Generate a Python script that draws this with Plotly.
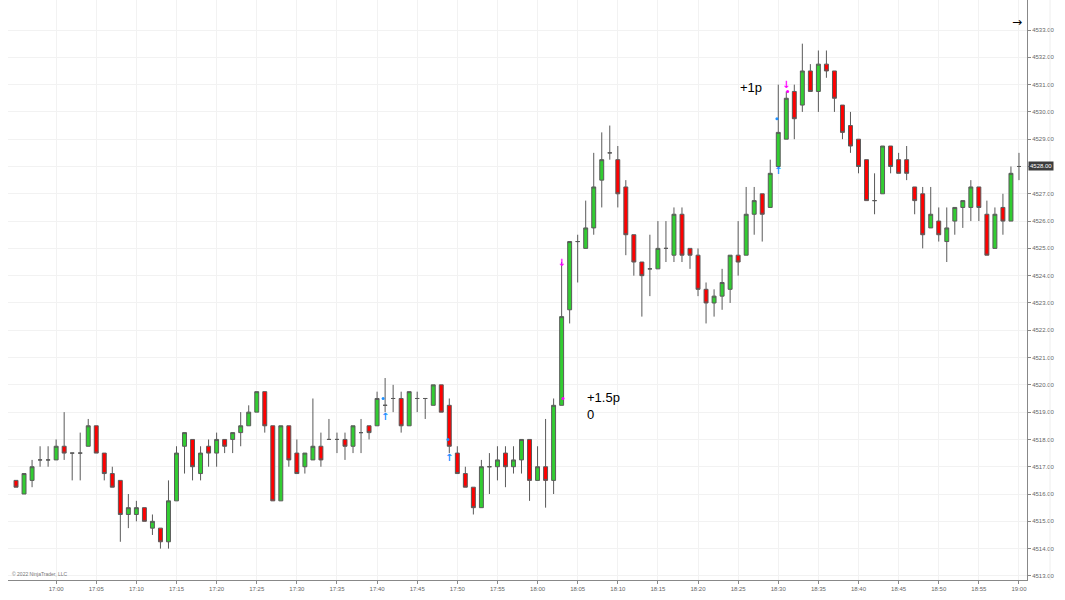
import pandas as pd
import plotly.graph_objects as go

# 1 minute bars, 16:55 -> 19:00
start_time = "2022-01-03 16:55"
opens = [4516.5, 4516.0, 4516.5, 4517.25, 4517.25, 4517.25, 4517.75, 4517.5, 4517.5, 4517.75,
         4518.5, 4517.5, 4516.75, 4516.5, 4515.25, 4515.25, 4515.5, 4514.75, 4514.75, 4514.25,
         4515.75, 4517.75, 4518.0, 4516.75, 4517.75, 4517.5, 4518.0, 4518.0, 4518.25, 4518.5,
         4519.0, 4519.75, 4518.5, 4515.75, 4518.5, 4517.5, 4517.0, 4517.25, 4517.75, 4518.0,
         4518.0, 4518.0, 4517.75, 4518.25, 4518.5, 4518.5, 4519.25, 4519.5, 4519.5, 4518.5,
         4519.5, 4519.5, 4519.25, 4520.0, 4519.25, 4517.5, 4516.75, 4516.25, 4515.5, 4517.0,
         4517.0, 4517.5, 4517.0, 4517.25, 4518.0, 4516.5, 4517.0, 4516.5, 4519.25, 4522.75,
         4525.25, 4525.0, 4525.75, 4527.5, 4528.5, 4528.25, 4527.25, 4525.5, 4524.5, 4524.25,
         4524.25, 4525.0, 4524.75, 4526.25, 4525.0, 4524.75, 4523.5, 4523.0, 4523.25, 4523.5,
         4524.75, 4524.75, 4526.25, 4527.0, 4526.5, 4528.0, 4529.0, 4530.75, 4530.25, 4531.5,
         4530.75, 4531.75, 4531.5, 4530.25, 4529.5, 4529.0, 4528.25, 4526.75, 4527.0, 4528.75,
         4528.25, 4528.25, 4527.25, 4527.0, 4525.75, 4526.0, 4525.25, 4526.0, 4526.5, 4526.5,
         4527.25, 4526.25, 4525.0, 4526.5, 4526.0, 4528.0]
highs = [4516.5, 4516.75, 4517.25, 4517.75, 4517.75, 4518.0, 4519.0, 4517.5, 4518.25, 4518.75,
         4518.5, 4517.5, 4517.0, 4516.5, 4516.0, 4515.75, 4515.5, 4515.25, 4514.75, 4516.5,
         4517.75, 4518.25, 4518.0, 4517.75, 4518.0, 4518.25, 4518.0, 4518.25, 4519.0, 4519.25,
         4519.75, 4519.75, 4518.5, 4518.5, 4518.5, 4518.0, 4517.5, 4519.5, 4518.25, 4518.75,
         4518.25, 4518.25, 4518.5, 4518.75, 4518.5, 4519.75, 4520.25, 4520.0, 4519.75, 4519.75,
         4519.75, 4519.5, 4520.0, 4520.0, 4519.5, 4517.75, 4517.0, 4516.25, 4517.25, 4517.5,
         4517.75, 4517.75, 4517.75, 4518.0, 4518.0, 4517.75, 4518.75, 4519.5, 4524.5, 4525.25,
         4525.5, 4526.75, 4528.5, 4529.25, 4529.5, 4528.75, 4527.5, 4525.5, 4524.5, 4525.5,
         4526.0, 4526.0, 4526.5, 4526.5, 4525.0, 4525.0, 4523.75, 4523.5, 4524.25, 4524.75,
         4526.0, 4527.25, 4527.25, 4527.0, 4528.25, 4531.0, 4530.75, 4531.0, 4532.5, 4531.75,
         4532.25, 4532.25, 4531.5, 4530.25, 4530.0, 4529.0, 4528.25, 4527.75, 4528.75, 4528.75,
         4528.5, 4528.75, 4527.25, 4527.25, 4527.25, 4526.5, 4526.5, 4526.5, 4526.75, 4527.5,
         4527.25, 4526.75, 4526.5, 4527.0, 4528.0, 4528.5]
lows = [4516.25, 4516.0, 4516.25, 4517.0, 4517.0, 4517.25, 4517.25, 4516.5, 4516.5, 4517.75,
        4517.5, 4516.5, 4516.25, 4514.25, 4514.75, 4515.0, 4515.0, 4514.5, 4514.0, 4514.0,
        4515.75, 4516.75, 4516.5, 4516.5, 4517.0, 4517.0, 4517.5, 4517.5, 4517.75, 4518.5,
        4519.0, 4518.25, 4515.75, 4515.75, 4517.0, 4516.75, 4516.75, 4517.25, 4517.0, 4518.0,
        4517.5, 4517.25, 4517.5, 4517.5, 4518.0, 4518.5, 4519.0, 4519.0, 4518.25, 4518.5,
        4519.0, 4518.75, 4519.25, 4519.0, 4517.5, 4516.75, 4516.25, 4515.25, 4515.5, 4516.0,
        4516.5, 4516.25, 4516.75, 4516.75, 4515.75, 4516.5, 4515.5, 4516.0, 4519.25, 4522.25,
        4523.75, 4525.0, 4525.5, 4526.5, 4528.25, 4526.5, 4524.75, 4524.0, 4522.5, 4523.25,
        4524.25, 4524.5, 4524.5, 4524.5, 4524.25, 4523.25, 4522.25, 4522.5, 4522.75, 4523.0,
        4524.0, 4524.75, 4525.5, 4525.25, 4526.5, 4528.0, 4529.0, 4529.0, 4530.0, 4530.75,
        4530.0, 4531.25, 4530.0, 4529.0, 4528.5, 4527.75, 4526.75, 4526.25, 4527.0, 4527.75,
        4527.75, 4527.5, 4526.25, 4525.0, 4525.75, 4525.25, 4524.5, 4525.5, 4525.75, 4526.0,
        4526.0, 4524.75, 4525.0, 4525.5, 4526.0, 4527.5]
closes = [4516.25, 4516.75, 4517.0, 4517.25, 4517.25, 4517.75, 4517.5, 4517.5, 4517.5, 4518.5,
          4517.5, 4516.75, 4516.25, 4515.25, 4515.5, 4515.5, 4515.0, 4515.0, 4514.25, 4515.75,
          4517.5, 4518.25, 4517.0, 4517.5, 4517.5, 4518.0, 4517.75, 4518.25, 4518.5, 4519.0,
          4519.75, 4518.5, 4515.75, 4518.5, 4517.25, 4516.75, 4517.5, 4517.75, 4517.25, 4518.0,
          4518.0, 4517.75, 4518.5, 4518.25, 4518.25, 4519.5, 4519.25, 4519.5, 4518.5, 4519.75,
          4519.5, 4519.5, 4520.0, 4519.0, 4517.75, 4516.75, 4516.25, 4515.5, 4517.0, 4517.0,
          4517.25, 4517.0, 4517.25, 4518.0, 4516.5, 4517.0, 4516.5, 4519.25, 4522.5, 4525.25,
          4525.25, 4525.75, 4527.25, 4528.25, 4528.5, 4527.0, 4525.5, 4524.5, 4524.0, 4524.25,
          4525.0, 4525.0, 4526.25, 4524.75, 4524.75, 4523.5, 4523.0, 4523.25, 4523.75, 4524.75,
          4524.5, 4526.25, 4526.75, 4526.25, 4527.75, 4529.25, 4530.5, 4529.75, 4531.5, 4530.75,
          4531.75, 4531.5, 4530.5, 4529.25, 4528.75, 4528.0, 4526.75, 4526.75, 4528.75, 4528.0,
          4527.75, 4527.75, 4526.75, 4525.5, 4526.25, 4525.5, 4525.75, 4526.5, 4526.75, 4527.25,
          4526.5, 4524.75, 4526.25, 4526.0, 4527.75, 4528.0]

times = pd.date_range(start_time, periods=len(opens), freq="1min")

# axis ticks
time_ticks = pd.date_range("2022-01-03 17:00", "2022-01-03 19:00", freq="5min")
price_ticks = [4513 + i for i in range(21)]

# execution markers
long_times = ["2022-01-03 17:41", "2022-01-03 17:49", "2022-01-03 18:30"]
long_arrow_prices = [4518.8, 4517.3, 4527.8]
long_dot_times = ["2022-01-03 17:40:45", "2022-01-03 17:48:50", "2022-01-03 18:29:50"]
long_dot_prices = [4519.5, 4518.0, 4529.75]
exit_times = ["2022-01-03 18:03", "2022-01-03 18:31"]
exit_arrow_prices = [4524.45, 4530.95]
exit_dot_times = ["2022-01-03 18:03:10", "2022-01-03 18:31:10"]
exit_dot_prices = [4519.5, 4530.75]

# trade labels
label_texts = ["+1.5p", "0", "+1p"]
label_times = ["2022-01-03 18:05:55", "2022-01-03 18:05:55", "2022-01-03 18:25"]
label_prices = [4519.55, 4518.9, 4530.9]

last_price = 4528.0

fig = go.Figure()
fig.add_trace(go.Candlestick(
    x=times, open=opens, high=highs, low=lows, close=closes,
    increasing=dict(fillcolor="#32cd32", line=dict(color="#5a5a5a", width=1)),
    decreasing=dict(fillcolor="#ff0000", line=dict(color="#5a5a5a", width=1)),
    whiskerwidth=0, showlegend=False))

fig.add_trace(go.Scatter(x=long_times, y=long_arrow_prices, mode="text", text=["↑"] * 3,
                         textfont=dict(family="DejaVu Sans", size=10, color="#1e90ff",
                                       weight="bold"),
                         showlegend=False))
fig.add_trace(go.Scatter(x=long_dot_times, y=long_dot_prices, mode="markers",
                         marker=dict(symbol="circle", size=3, color="#1e90ff"),
                         showlegend=False))
fig.add_trace(go.Scatter(x=exit_times, y=exit_arrow_prices, mode="text", text=["↓"] * 2,
                         textfont=dict(family="DejaVu Sans", size=10, color="#ff00ff",
                                       weight="bold"),
                         showlegend=False))
fig.add_trace(go.Scatter(x=exit_dot_times, y=exit_dot_prices, mode="markers",
                         marker=dict(symbol="circle", size=3, color="#ff00ff"),
                         showlegend=False))

for t, p, s in zip(label_times, label_prices, label_texts):
    fig.add_annotation(x=t, y=p, text=s, showarrow=False, xanchor="left",
                       font=dict(family="Arial", size=13, color="black"))

# last price marker on the axis (replaces its tick label)
fig.add_annotation(xref="paper", x=1, y=last_price, yref="y", text=f"{last_price:.2f}",
                   showarrow=False, xanchor="left", xshift=1,
                   bgcolor="#3c3c3c", borderpad=1,
                   font=dict(family="Arial", size=6, color="white"))

fig.add_annotation(xref="paper", yref="paper", x=0.99, y=0.962, text="→",
                   showarrow=False, xanchor="center", yanchor="middle",
                   font=dict(family="DejaVu Sans", size=12, color="black"))
fig.add_annotation(xref="paper", yref="paper", x=0.002, y=0.01, text="© 2022 NinjaTrader, LLC",
                   showarrow=False, xanchor="left", yanchor="middle",
                   font=dict(family="Arial", size=5, color="#777777"))
fig.add_shape(type="line", xref="paper", yref="paper", x0=1.0226, x1=1.0226, y0=0, y1=1,
              line=dict(color="#eeeeee", width=1))

fig.update_layout(
    width=1065, height=600, autosize=False,
    margin=dict(l=8, r=38, t=0, b=20),
    plot_bgcolor="white", paper_bgcolor="white",
    boxgap=0.3,
    xaxis=dict(
        rangeslider=dict(visible=False),
        range=["2022-01-03 16:54:00", "2022-01-03 19:01:00"],
        tickvals=time_ticks, ticktext=[t.strftime("%H:%M") for t in time_ticks],
        ticks="outside", ticklen=3, tickcolor="#888888",
        showgrid=True, gridcolor="#f2f2f2",
        showline=True, linecolor="#888888", linewidth=1,
        tickfont=dict(family="Arial", size=6, color="#666666"),
    ),
    yaxis=dict(
        side="right", range=[4512.85, 4534.1],
        tickvals=price_ticks,
        ticktext=["" if p == last_price else f"{p:.2f}" for p in price_ticks],
        ticks="outside", ticklen=3, tickcolor="#888888",
        showgrid=True, gridcolor="#f2f2f2",
        showline=True, linecolor="#888888", linewidth=1,
        tickfont=dict(family="Arial", size=6, color="#666666"),
    ),
)

fig.write_html("out.html", config={"displayModeBar": False},
               post_script="document.body.style.margin='0';")
